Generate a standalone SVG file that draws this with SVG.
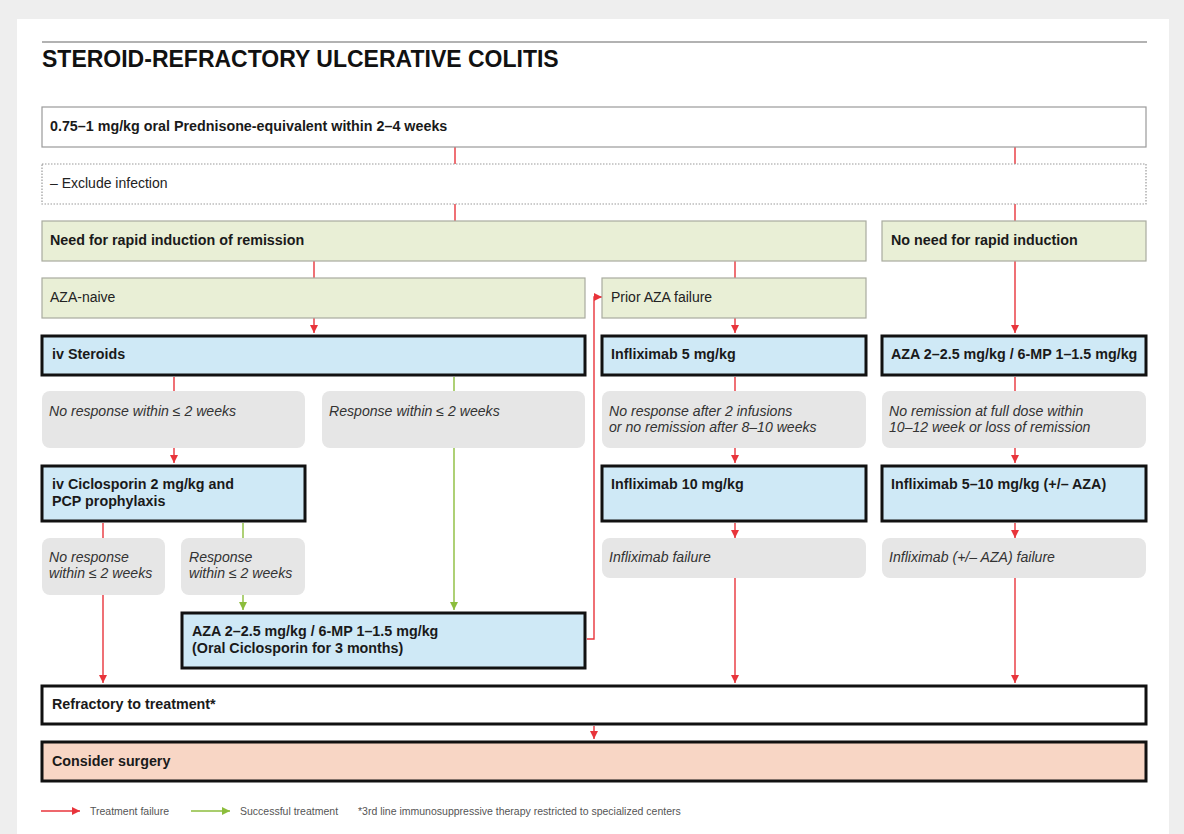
<svg xmlns="http://www.w3.org/2000/svg" width="1184" height="834" viewBox="0 0 1184 834">
  <style>
    text { font-family: "Liberation Sans", Arial, sans-serif; fill: #1a1a1a; }
    .title { font-size: 23px; font-weight: bold; fill: #111; }
    .b { font-size: 14.3px; font-weight: bold; }
    .r { font-size: 14px; fill: #222; }
    .i { font-size: 14.1px; font-style: italic; fill: #333; }
    .leg { font-size: 10.5px; fill: #555; }
    .plain { fill: #fff; stroke: #9a9a9a; stroke-width: 1.2; }
    .dotted { fill: #fff; stroke: #9a9a9a; stroke-width: 1.2; stroke-dasharray: 1.5 1.5; }
    .green { fill: #e9efd6; stroke: #a9ab9f; stroke-width: 1.2; }
    .blue { fill: #cfe9f6; stroke: #111; stroke-width: 3; }
    .white { fill: #fff; stroke: #111; stroke-width: 3; }
    .peach { fill: #f8d6c5; stroke: #111; stroke-width: 3; }
    .grey { fill: #e6e6e6; stroke: none; }
    .fail { fill: none; stroke: #e8343b; stroke-width: 1.4; }
    .ok { fill: none; stroke: #8cbd3c; stroke-width: 1.4; }
  </style>
  <defs>
    <marker id="arrRed" viewBox="0 0 8 8" refX="8" refY="4" markerWidth="8" markerHeight="8" markerUnits="userSpaceOnUse" orient="auto">
      <path d="M0,0 L8,4 L0,8 z" fill="#e8343b"/>
    </marker>
    <marker id="arrGreen" viewBox="0 0 8 8" refX="8" refY="4" markerWidth="8" markerHeight="8" markerUnits="userSpaceOnUse" orient="auto">
      <path d="M0,0 L8,4 L0,8 z" fill="#8cbd3c"/>
    </marker>
  </defs>

  <!-- page -->
  <rect x="0" y="0" width="1184" height="834" fill="#eeeeee"/>
  <rect x="17" y="19" width="1152" height="815" fill="#ffffff"/>

  <!-- heading -->
  <line x1="42" y1="42" x2="1147" y2="42" stroke="#999" stroke-width="1.5"/>
  <text class="title" x="42" y="67">STEROID-REFRACTORY ULCERATIVE COLITIS</text>

  <!-- connectors -->
  <g id="connectors">
    <path class="fail" d="M455,147 V164"/>
    <path class="fail" d="M455,204 V221"/>
    <path class="fail" d="M1015,147 V164"/>
    <path class="fail" d="M1015,204 V221"/>
    <path class="fail" d="M314,261 V278"/>
    <path class="fail" d="M735,261 V278"/>
    <path class="fail" d="M1015,261 V333" marker-end="url(#arrRed)"/>
    <path class="fail" d="M314,318 V333" marker-end="url(#arrRed)"/>
    <path class="fail" d="M735,318 V333" marker-end="url(#arrRed)"/>
    <path class="fail" d="M174,377 V391"/>
    <path class="fail" d="M174,448 V463" marker-end="url(#arrRed)"/>
    <path class="fail" d="M735,377 V391"/>
    <path class="fail" d="M735,448 V463" marker-end="url(#arrRed)"/>
    <path class="fail" d="M1015,377 V391"/>
    <path class="fail" d="M1015,448 V463" marker-end="url(#arrRed)"/>
    <path class="fail" d="M103,523 V538"/>
    <path class="fail" d="M103,595 V683" marker-end="url(#arrRed)"/>
    <path class="fail" d="M735,523 V538" marker-end="url(#arrRed)"/>
    <path class="fail" d="M1015,523 V538" marker-end="url(#arrRed)"/>
    <path class="fail" d="M735,578 V683" marker-end="url(#arrRed)"/>
    <path class="fail" d="M1015,578 V683" marker-end="url(#arrRed)"/>
    <path class="fail" d="M587,639 H594 V297 H602" marker-end="url(#arrRed)"/>
    <path class="fail" d="M594,726 V739" marker-end="url(#arrRed)"/>
    <path class="ok" d="M454,377 V391"/>
    <path class="ok" d="M454,448 V610" marker-end="url(#arrGreen)"/>
    <path class="ok" d="M243,523 V538"/>
    <path class="ok" d="M243,595 V610" marker-end="url(#arrGreen)"/>
  </g>

  <!-- nodes -->
  <g id="n-prednisone">
    <rect class="plain" x="42" y="107" width="1104" height="40"/>
    <text class="b" x="50" y="131">0.75–1 mg/kg oral Prednisone-equivalent within 2–4 weeks</text>
  </g>
  <g id="n-infection">
    <rect class="dotted" x="42" y="164" width="1104" height="40"/>
    <text class="r" x="50" y="188">– Exclude infection</text>
  </g>
  <g id="n-rapid">
    <rect class="green" x="42" y="221" width="824" height="40"/>
    <text class="b" x="50" y="245">Need for rapid induction of remission</text>
  </g>
  <g id="n-norapid">
    <rect class="green" x="882" y="221" width="264" height="40"/>
    <text class="b" x="891" y="245">No need for rapid induction</text>
  </g>
  <g id="n-azanaive">
    <rect class="green" x="42" y="278" width="543" height="40"/>
    <text class="r" x="50" y="302">AZA-naive</text>
  </g>
  <g id="n-priorfail">
    <rect class="green" x="602" y="278" width="264" height="40"/>
    <text class="r" x="611" y="302">Prior AZA failure</text>
  </g>
  <g id="n-ivsteroids">
    <rect class="blue" x="42" y="336" width="543" height="39"/>
    <text class="b" x="52" y="359">iv Steroids</text>
  </g>
  <g id="n-ifx5">
    <rect class="blue" x="602" y="336" width="264" height="39"/>
    <text class="b" x="611" y="359">Infliximab 5 mg/kg</text>
  </g>
  <g id="n-aza-right">
    <rect class="blue" x="882" y="336" width="264" height="39"/>
    <text class="b" x="891" y="359">AZA 2–2.5 mg/kg / 6-MP 1–1.5 mg/kg</text>
  </g>
  <g id="n-noresp">
    <rect class="grey" x="42" y="391" width="263" height="57" rx="8"/>
    <text class="i" x="49" y="416">No response within ≤ 2 weeks</text>
  </g>
  <g id="n-resp">
    <rect class="grey" x="322" y="391" width="263" height="57" rx="8"/>
    <text class="i" x="329" y="416">Response within ≤ 2 weeks</text>
  </g>
  <g id="n-ifxnoresp">
    <rect class="grey" x="602" y="391" width="264" height="57" rx="8"/>
    <text class="i" x="609" y="416">No response after 2 infusions</text>
    <text class="i" x="609" y="432">or no remission after 8–10 weeks</text>
  </g>
  <g id="n-aznorem">
    <rect class="grey" x="882" y="391" width="264" height="57" rx="8"/>
    <text class="i" x="889" y="416">No remission at full dose within</text>
    <text class="i" x="889" y="432">10–12 week or loss of remission</text>
  </g>
  <g id="n-ciclosporin">
    <rect class="blue" x="42" y="466" width="263" height="55"/>
    <text class="b" x="52" y="489">iv Ciclosporin 2 mg/kg and</text>
    <text class="b" x="52" y="506">PCP prophylaxis</text>
  </g>
  <g id="n-ifx10">
    <rect class="blue" x="602" y="466" width="264" height="55"/>
    <text class="b" x="611" y="489">Infliximab 10 mg/kg</text>
  </g>
  <g id="n-ifx510">
    <rect class="blue" x="882" y="466" width="264" height="55"/>
    <text class="b" x="891" y="489">Infliximab 5–10 mg/kg (+/– AZA)</text>
  </g>
  <g id="n-cyc-noresp">
    <rect class="grey" x="42" y="538" width="123" height="57" rx="8"/>
    <text class="i" x="49" y="562">No response</text>
    <text class="i" x="49" y="578">within ≤ 2 weeks</text>
  </g>
  <g id="n-cyc-resp">
    <rect class="grey" x="181" y="538" width="124" height="57" rx="8"/>
    <text class="i" x="189" y="562">Response</text>
    <text class="i" x="189" y="578">within ≤ 2 weeks</text>
  </g>
  <g id="n-ifxfail">
    <rect class="grey" x="602" y="538" width="264" height="40" rx="8"/>
    <text class="i" x="609" y="562">Infliximab failure</text>
  </g>
  <g id="n-ifxazafail">
    <rect class="grey" x="882" y="538" width="264" height="40" rx="8"/>
    <text class="i" x="889" y="562">Infliximab (+/– AZA) failure</text>
  </g>
  <g id="n-aza-main">
    <rect class="blue" x="182" y="613" width="403" height="55"/>
    <text class="b" x="192" y="636">AZA 2–2.5 mg/kg / 6-MP 1–1.5 mg/kg</text>
    <text class="b" x="192" y="653">(Oral Ciclosporin for 3 months)</text>
  </g>
  <g id="n-refractory">
    <rect class="white" x="42" y="686" width="1104" height="38"/>
    <text class="b" x="52" y="709">Refractory to treatment*</text>
  </g>
  <g id="n-surgery">
    <rect class="peach" x="42" y="742" width="1104" height="39"/>
    <text class="b" x="52" y="766">Consider surgery</text>
  </g>

  <!-- legend -->
  <g id="legend">
    <path class="fail" d="M41,811 H80" marker-end="url(#arrRed)"/>
    <text class="leg" x="90" y="815">Treatment failure</text>
    <path class="ok" d="M191,811 H230" marker-end="url(#arrGreen)"/>
    <text class="leg" x="240" y="815">Successful treatment</text>
    <text class="leg" x="358" y="815">*3rd line immunosuppressive therapy restricted to specialized centers</text>
  </g>
</svg>
